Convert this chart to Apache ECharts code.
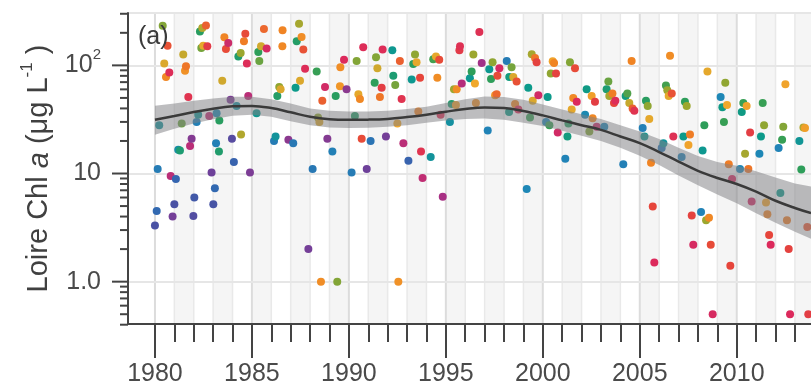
<!DOCTYPE html>
<html>
<head>
<meta charset="utf-8">
<script src="https://cdn.jsdelivr.net/npm/echarts@6/dist/echarts.min.js"></script>
<style>
html, body { margin: 0; padding: 0; background: #ffffff; }
#chart { width: 811px; height: 387px; }
</style>
</head>
<body>
<div id="chart"></div>
<script>
// Loire chlorophyll a samples: decimal sampling date and concentration (µg/L)
const sampleDate = [
  1980.00, 1980.09, 1980.14, 1980.22, 1980.40, 1980.48, 1980.57, 1980.65, 1980.74, 1980.81, 1980.91,
  1981.00, 1981.08, 1981.20, 1981.29, 1981.38, 1981.46, 1981.55, 1981.60, 1981.72, 1981.81, 1981.89, 1981.98,
  1982.03, 1982.15, 1982.23, 1982.32, 1982.39, 1982.44, 1982.49, 1982.63, 1982.70, 1982.80, 1982.92,
  1983.01, 1983.09, 1983.15, 1983.18, 1983.30, 1983.32, 1983.47, 1983.58, 1983.66, 1983.78, 1983.90, 1983.97,
  1984.07, 1984.21, 1984.30, 1984.42, 1984.44, 1984.59, 1984.66, 1984.74, 1984.81, 1984.90,
  1985.24, 1985.33, 1985.38, 1985.47, 1985.62, 1985.76,
  1986.14, 1986.22, 1986.31, 1986.41, 1986.48, 1986.57, 1986.58, 1986.88,
  1987.13, 1987.25, 1987.31, 1987.43, 1987.48, 1987.56, 1987.65, 1987.74, 1987.91,
  1988.13, 1988.34, 1988.41, 1988.48, 1988.56, 1988.63, 1988.77, 1988.89,
  1989.15, 1989.32, 1989.40, 1989.54, 1989.56, 1989.75, 1989.88,
  1990.14, 1990.31, 1990.40, 1990.49, 1990.57, 1990.66, 1990.74, 1990.92,
  1991.12, 1991.33, 1991.40, 1991.47, 1991.60, 1991.69, 1991.74, 1991.91,
  1992.24, 1992.29, 1992.39, 1992.50, 1992.55, 1992.63, 1992.72, 1992.81,
  1993.07, 1993.24, 1993.32, 1993.41, 1993.49, 1993.58, 1993.67, 1993.72, 1993.80,
  1994.22, 1994.35, 1994.49, 1994.56, 1994.66, 1994.73, 1994.84,
  1995.21, 1995.30, 1995.42, 1995.52, 1995.56, 1995.70, 1995.73, 1995.82,
  1996.24, 1996.33, 1996.42, 1996.50, 1996.55, 1996.73, 1996.85,
  1997.16, 1997.24, 1997.33, 1997.41, 1997.54, 1997.62, 1997.66, 1997.76,
  1998.14, 1998.26, 1998.27, 1998.39, 1998.48, 1998.57, 1998.65, 1998.74,
  1999.17, 1999.25, 1999.34, 1999.43, 1999.48, 1999.60, 1999.68, 1999.77,
  2000.17, 2000.25, 2000.34, 2000.41, 2000.51, 2000.58, 2000.68, 2000.77,
  2001.16, 2001.27, 2001.32, 2001.40, 2001.49, 2001.57, 2001.66, 2001.75,
  2002.18, 2002.26, 2002.40, 2002.52, 2002.57, 2002.69, 2002.78,
  2003.17, 2003.29, 2003.38, 2003.43, 2003.59, 2003.67, 2003.74,
  2004.15, 2004.27, 2004.36, 2004.46, 2004.58, 2004.63, 2004.72,
  2005.15, 2005.24, 2005.32, 2005.41, 2005.49, 2005.58, 2005.67, 2005.75,
  2006.13, 2006.22, 2006.35, 2006.42, 2006.49, 2006.56, 2006.65, 2006.73,
  2007.16, 2007.25, 2007.33, 2007.42, 2007.51, 2007.59, 2007.68, 2007.76,
  2008.16, 2008.24, 2008.33, 2008.42, 2008.49, 2008.57, 2008.66, 2008.76,
  2009.17, 2009.26, 2009.34, 2009.41, 2009.50, 2009.59, 2009.67, 2009.76,
  2010.17, 2010.26, 2010.34, 2010.43, 2010.51, 2010.60, 2010.69, 2010.77,
  2011.17, 2011.25, 2011.34, 2011.41, 2011.51, 2011.58, 2011.67, 2011.75,
  2012.16, 2012.25, 2012.34, 2012.40, 2012.51, 2012.59, 2012.68, 2012.75,
  2013.23, 2013.33, 2013.44, 2013.52, 2013.64, 2013.69
];
const chlValue = [
  3.3, 4.5, 11, 28, 233, 104, 78, 152, 86, 9.5, 4.0,
  5.2, 8.9, 16.6, 16.3, 29, 126, 89, 98, 51, 18, 21, 4.05,
  6.0, 30, 35, 206, 145, 222, 152, 234, 150, 34, 10.2,
  5.2, 7.3, 19, 36, 16, 31, 72, 182, 142, 161, 48, 21,
  12.8, 42, 121, 130, 23, 167, 196, 104, 52, 10.2,
  36, 133, 110, 150, 217, 143,
  20, 22, 52, 63, 60, 150, 211, 20.5,
  19, 62, 167, 243, 72, 183, 140, 93, 2.0,
  11, 88, 33, 30, 1.0, 47, 63, 21,
  16, 52, 1.0, 64, 96, 113, 60,
  10.2, 34, 110, 54, 49, 21, 147, 11,
  20, 69, 119, 94, 51, 62, 140, 22,
  138, 80, 66, 29, 1.0, 110, 49, 19,
  13.1, 74, 103, 126, 107, 37.5, 77, 16, 9.1,
  14.2, 114, 121, 77, 113, 35, 6.1,
  30, 44, 60, 43, 60, 138, 150, 68,
  76, 88, 126, 68, 45, 204, 105,
  25, 92, 75, 107, 53, 54, 80, 94,
  110, 37, 78, 96, 78, 44, 71, 39,
  7.2, 62, 33, 127, 47, 117, 107, 53,
  30, 51, 28, 84, 109, 105, 84, 24,
  13.7, 22, 29, 107, 39, 50, 94, 46,
  35, 60, 24.5, 52, 32.5, 46, 27,
  27, 60, 71, 52, 55, 45, 47,
  12.2, 52, 55, 45, 110, 40, 38,
  26.3, 22, 47, 42, 32, 12.6, 4.95, 1.5,
  17.2, 19, 65, 59, 52, 123, 55, 22,
  14.2, 22, 46, 42, 18.4, 23, 4.1, 2.2,
  4.4, 16.3, 28, 3.7, 88, 3.9, 2.2, 0.5,
  51, 41, 30, 69, 43, 12.2, 1.4, 8.9,
  11, 37, 45, 15.2, 42, 11, 24, 5.5,
  15.2, 22, 45, 28, 5.4, 4.2, 2.7, 2.2,
  17.2, 6.6, 20.5, 27, 67, 3.7, 2.0, 0.5,
  20, 10.9, 26.7, 26.3, 3.2, 0.5
];

// Smoothed trend with its confidence band
const fitYear  = [1980, 1981, 1982, 1983, 1984, 1985, 1986, 1987, 1988, 1989, 1990, 1991, 1992, 1993, 1994, 1995, 1996,
                  1997, 1998, 1999, 2000, 2001, 2002, 2003, 2004, 2005, 2006, 2007, 2008, 2009, 2010, 2011, 2012, 2013, 2013.83];
const fitValue = [31.4, 34.0, 37.0, 39.8, 41.8, 42.2, 40.3, 36.8, 33.5, 31.8, 31.4, 31.5, 32.0, 33.3, 35.0, 37.3, 39.5,
                  40.8, 40.3, 37.8, 34.5, 31.0, 28.0, 25.3, 22.0, 19.1, 15.8, 12.9, 10.6, 9.1, 8.0, 6.8, 5.6, 4.8, 4.3];
const fitLower = [22.8, 26.0, 29.0, 31.8, 34.2, 35.0, 33.5, 30.5, 28.0, 26.6, 26.3, 26.5, 27.0, 28.0, 29.5, 31.0, 32.0,
                  32.2, 31.5, 29.5, 27.5, 24.8, 22.3, 20.0, 17.3, 14.6, 12.0, 9.6, 7.8, 6.4, 5.3, 4.3, 3.5, 2.9, 2.5];
const fitUpper = [42.4, 44.5, 47.0, 49.5, 51.2, 51.3, 48.5, 44.3, 40.0, 38.0, 37.5, 37.5, 38.0, 39.5, 41.5, 44.8, 48.5,
                  51.5, 51.0, 48.0, 43.5, 39.0, 35.3, 32.0, 28.0, 24.5, 20.8, 17.3, 14.5, 12.8, 11.8, 10.5, 9.2, 8.1, 7.6];

// Axis ticks and labels
const majorYears = [1980, 1985, 1990, 1995, 2000, 2005, 2010];
const minorYears = [1980, 1981, 1982, 1983, 1984, 1985, 1986, 1987, 1988, 1989, 1990, 1991, 1992, 1993, 1994, 1995, 1996,
                    1997, 1998, 1999, 2000, 2001, 2002, 2003, 2004, 2005, 2006, 2007, 2008, 2009, 2010, 2011, 2012, 2013];
const yTickValues = [1, 10, 100];
const yTickLabels = ['1.0', '10', '10^2'];
const yMinorValues = [0.4, 0.5, 0.6, 0.7, 0.8, 0.9, 2, 3, 4, 5, 6, 7, 8, 9, 20, 30, 40, 50, 60, 70, 80, 90, 200, 300];

// Seasonal colour wheel (fraction of the year, evenly spaced stops)
const seasonColors = ['#4a52a4', '#3466b0', '#1f86b8', '#0c9a8a', '#2f9e58', '#98a72f', '#f0a82c',
                      '#f08224', '#e6463a', '#dc2a5c', '#ad2f82', '#70409a', '#4a52a4'];

const X_MIN = 1978.61, X_MAX = 2013.83;
const Y_MIN = 0.406, Y_MAX = 305;
const FONT = '"Liberation Sans", Arial, Helvetica, sans-serif';
const INK = '#444444';

const chart = echarts.init(document.getElementById('chart'), null, { renderer: 'canvas' });

const points = sampleDate.map((d, i) => [d, chlValue[i], d - Math.floor(d)]);
const yearCells = minorYears.map(y => [y, 1]);
const yTicks = yTickValues.map(v => [X_MIN, v, 1]).concat(yMinorValues.map(v => [X_MIN, v, 0]));

function tickLabel(v) {
  const i = yTickValues.findIndex(t => Math.abs(Math.log10(v) - Math.log10(t)) < 1e-6);
  if (i < 0) return '';
  const parts = yTickLabels[i].split('^');
  return parts.length > 1 ? '{b|' + parts[0] + '}{s|' + parts[1] + '}' : '{b|' + parts[0] + '}';
}

const option = {
  animation: false,
  backgroundColor: '#ffffff',
  grid: { left: 128, top: 13, right: 0, bottom: 63, containLabel: false },
  xAxis: [
    {
      type: 'value', min: X_MIN, max: X_MAX, position: 'bottom',
      axisLine: { show: true, onZero: false, lineStyle: { color: INK, width: 2 } },
      axisTick: { show: true, customValues: majorYears, length: 34, lineStyle: { color: INK, width: 2 } },
      axisLabel: {
        show: true, customValues: majorYears, margin: 38, color: '#4a4a4a',
        fontSize: 25, lineHeight: 25, fontFamily: FONT, formatter: v => String(v)
      },
      splitLine: { show: false }
    },
    {
      type: 'value', min: X_MIN, max: X_MAX, position: 'bottom', gridIndex: 0,
      axisLine: { show: false },
      axisTick: { show: true, customValues: minorYears, length: 18, lineStyle: { color: INK, width: 2 } },
      axisLabel: { show: false },
      splitLine: { show: false }
    }
  ],
  yAxis: {
    type: 'log', logBase: 10, min: Y_MIN, max: Y_MAX,
    axisLine: { show: true, onZero: false, lineStyle: { color: INK, width: 2 } },
    axisTick: { show: false },
    axisLabel: {
      show: true, margin: 27, showMinLabel: false, showMaxLabel: false,
      formatter: tickLabel,
      rich: {
        b: { fontSize: 25, lineHeight: 25, color: '#4a4a4a', fontFamily: FONT, verticalAlign: 'bottom' },
        s: { fontSize: 15, lineHeight: 15, color: '#4a4a4a', fontFamily: FONT, verticalAlign: 'bottom', padding: [0, 0, 16, 0] }
      }
    },
    splitLine: { show: true, lineStyle: { color: '#e6e6e6', width: 2 } },
    name: '{t|Loire Chl }{i|a}{t| (μg L}{p|-1}{t| )}',
    nameLocation: 'middle', nameRotate: 90, nameGap: 72,
    nameTextStyle: {
      rich: {
        t: { fontSize: 29, lineHeight: 29, color: '#404040', fontFamily: FONT, verticalAlign: 'bottom' },
        i: { fontSize: 29, lineHeight: 29, color: '#404040', fontFamily: FONT, fontStyle: 'italic', verticalAlign: 'bottom' },
        p: { fontSize: 17, lineHeight: 17, color: '#404040', fontFamily: FONT, verticalAlign: 'bottom', padding: [0, 0, 18, 0] }
      }
    }
  },
  visualMap: {
    type: 'continuous', show: false, seriesIndex: 1, dimension: 2, min: 0, max: 1,
    inRange: { color: seasonColors }
  },
  graphic: [
    { type: 'text', left: 138, top: 25, z: 10,
      style: { text: '(a)', fontSize: 25, fill: '#3a3a3a', fontFamily: FONT } }
  ],
  series: [
    {
      // yearly columns: alternating shading and year grid lines
      type: 'custom', name: 'years', z: -1, clip: true, silent: true,
      data: yearCells,
      renderItem: function (params, api) {
        const yr = api.value(0);
        const cs = params.coordSys;
        const x0 = api.coord([yr, Y_MAX])[0];
        const x1 = api.coord([yr + 1, Y_MAX])[0];
        const children = [];
        if (yr % 2 === 1) {
          children.push({ type: 'rect', shape: { x: x0, y: cs.y, width: x1 - x0, height: cs.height },
                          style: { fill: '#f5f5f5' } });
        }
        const major = majorYears.indexOf(yr) >= 0;
        children.push({ type: 'line', shape: { x1: x0, y1: cs.y, x2: x0, y2: cs.y + cs.height },
                        style: { stroke: major ? '#dcdcdc' : '#e9e9e9', lineWidth: major ? 2 : 1.5 } });
        return { type: 'group', children: children };
      }
    },
    {
      type: 'scatter', name: 'Chl a', z: 2,
      data: points, symbol: 'circle', symbolSize: 8,
      itemStyle: { opacity: 1 }
    },
    {
      // confidence band of the trend
      type: 'custom', name: 'band', z: 3, clip: true, silent: true,
      data: [[fitYear[0], fitValue[0]]],
      renderItem: function (params, api) {
        const pts = [];
        for (let i = 0; i < fitYear.length; i++) pts.push(api.coord([fitYear[i], fitUpper[i]]));
        for (let i = fitYear.length - 1; i >= 0; i--) pts.push(api.coord([fitYear[i], fitLower[i]]));
        return { type: 'polygon', shape: { points: pts }, style: { fill: 'rgba(128,128,132,0.52)' } };
      }
    },
    {
      type: 'line', name: 'trend', z: 4, silent: true,
      data: fitYear.map((y, i) => [y, fitValue[i]]),
      smooth: 0.4, showSymbol: false, symbol: 'none',
      lineStyle: { color: '#3a3a3a', width: 2.5 }
    },
    {
      // logarithmic ticks on the concentration axis
      type: 'custom', name: 'yticks', z: 5, clip: false, silent: true,
      data: yTicks,
      renderItem: function (params, api) {
        const p = api.coord([api.value(0), api.value(1)]);
        const len = api.value(2) ? 16 : 8;
        return { type: 'line', shape: { x1: p[0] - len, y1: p[1], x2: p[0], y2: p[1] },
                 style: { stroke: INK, lineWidth: 2 } };
      }
    }
  ]
};

chart.setOption(option);
</script>
</body>
</html>
